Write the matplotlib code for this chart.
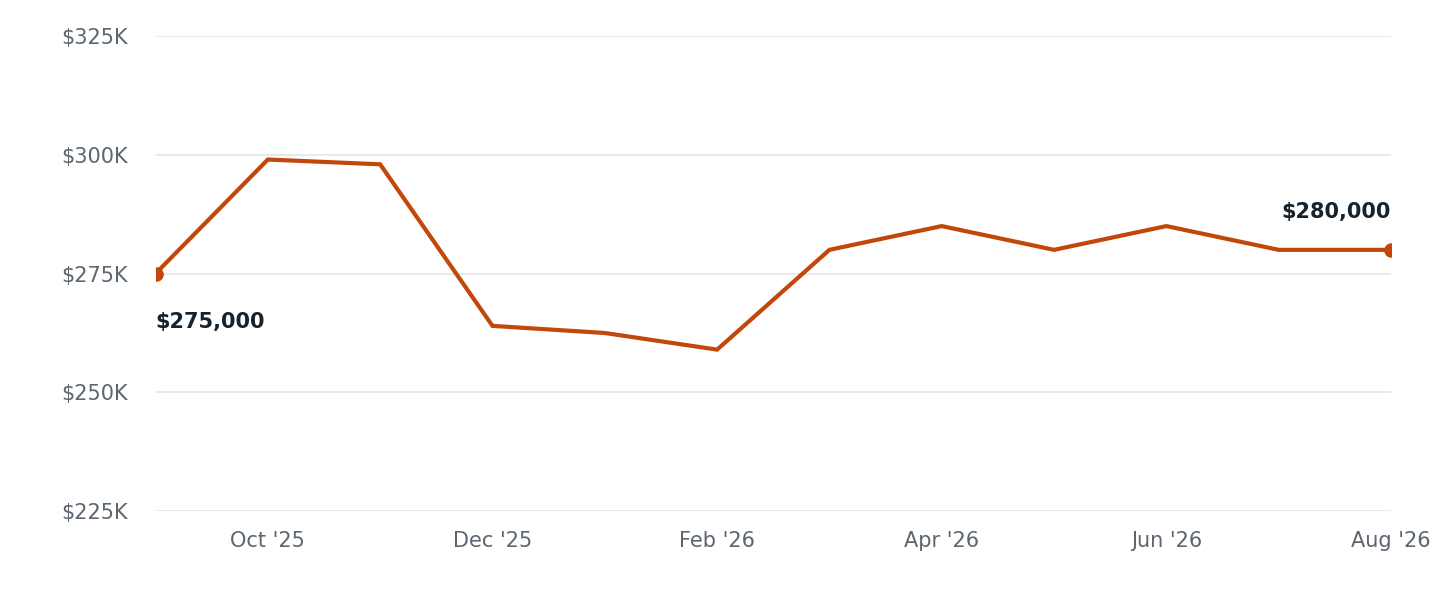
import matplotlib.pyplot as plt

# Monthly values (in $K), Sep '25 .. Aug '26
months = ["Sep '25", "Oct '25", "Nov '25", "Dec '25", "Jan '26", "Feb '26",
          "Mar '26", "Apr '26", "May '26", "Jun '26", "Jul '26", "Aug '26"]
values = [275, 299, 298, 264, 262.5, 259, 280, 285, 280, 285, 280, 280]
yticks = [225, 250, 275, 300, 325]

line_color = '#C2470A'
grid_color = '#e3e5e8'
tick_color = '#5c6670'
label_color = '#15232e'

fig = plt.figure(figsize=(14.4, 6), dpi=100)
ax = fig.add_axes([0.108, 0.148, 0.858, 0.792])

x = list(range(len(months)))
ax.plot(x, values, color=line_color, linewidth=3, solid_joinstyle='miter', zorder=3)
ax.scatter([x[0], x[-1]], [values[0], values[-1]], color=line_color, s=90, zorder=4)

ax.set_xlim(0, len(months) - 1)
ax.set_ylim(225, 325)
ax.set_yticks(yticks)
ax.set_yticklabels([f'${v}K' for v in yticks])
ax.set_xticks(x[1::2])
ax.set_xticklabels(months[1::2])
ax.grid(axis='y', color=grid_color, linewidth=1.2)
ax.set_axisbelow(True)
for s in ax.spines.values():
    s.set_visible(False)
ax.tick_params(length=0, labelsize=15, colors=tick_color)
ax.tick_params(axis='y', pad=20)
ax.tick_params(axis='x', pad=14)

ax.annotate(f'${values[0] * 1000:,.0f}', (x[0], values[0]), xytext=(0, -28),
            textcoords='offset points', ha='left', va='top',
            fontsize=15, fontweight='bold', color=label_color)
ax.annotate(f'${values[-1] * 1000:,.0f}', (x[-1], values[-1]), xytext=(0, 20),
            textcoords='offset points', ha='right', va='bottom',
            fontsize=15, fontweight='bold', color=label_color)

fig.savefig('out.png', dpi=100)
